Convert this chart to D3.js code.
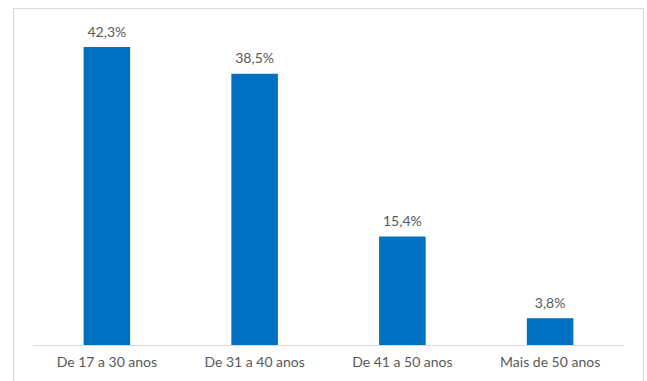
<!DOCTYPE html>
<html><head><meta charset="utf-8">
<script src="https://cdn.jsdelivr.net/npm/d3@7"></script>
<style>html,body{margin:0;padding:0;background:#fff;}svg{display:block;}</style>
</head><body>
<svg id="chart" width="647" height="381"></svg>
<script>
const categories = ["De 17 a 30 anos", "De 31 a 40 anos", "De 41 a 50 anos", "Mais de 50 anos"];
const values = [42.3, 38.5, 15.4, 3.8];
const valueLabels = ["42,3%", "38,5%", "15,4%", "3,8%"];

const svg = d3.select("#chart");
const font = "Lato, 'Liberation Sans', sans-serif";

svg.append("rect").attr("x", 13.5).attr("y", 8.5).attr("width", 630).attr("height", 380)
  .attr("fill", "#fff").attr("stroke", "#d9d9d9").attr("stroke-width", 1);

const x = d3.scaleBand().domain(categories).range([33, 624]).paddingInner(0.685).paddingOuter(0.3425);
const y = d3.scaleLinear().domain([0, 42.3]).range([345, 47]);

svg.selectAll("rect.bar").data(values).enter().append("rect")
  .attr("class", "bar")
  .attr("x", (d, i) => x(categories[i]))
  .attr("width", x.bandwidth())
  .attr("y", d => y(d))
  .attr("height", d => y(0) - y(d))
  .attr("fill", "#0070C0");

const xAxis = svg.append("g").attr("transform", "translate(0,345)")
  .call(d3.axisBottom(x).tickSize(0).tickPadding(10));
xAxis.select(".domain").attr("stroke", "#d9d9d9").attr("stroke-width", 1.2);
xAxis.selectAll("text").attr("font-family", font).attr("font-size", "14px").attr("fill", "#595959").attr("dy", "0.85em");

svg.selectAll("text.val").data(values).enter().append("text")
  .attr("class", "val")
  .attr("x", (d, i) => x(categories[i]) + x.bandwidth() / 2)
  .attr("y", d => y(d) - 10.5)
  .attr("text-anchor", "middle")
  .attr("font-family", font).attr("font-size", "14px").attr("fill", "#595959")
  .text((d, i) => valueLabels[i]);
</script>
</body></html>
